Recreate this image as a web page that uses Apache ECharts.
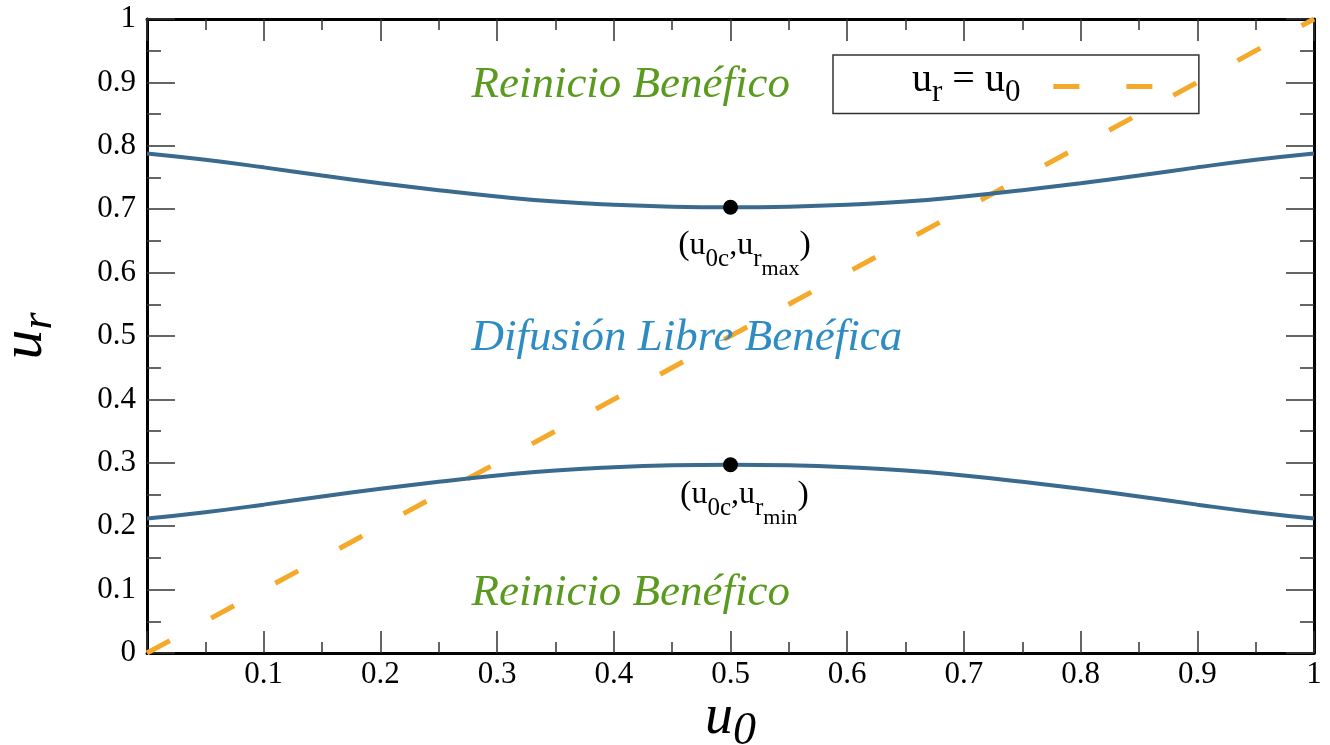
<!DOCTYPE html>
<html>
<head>
<meta charset="utf-8">
<script src="https://cdn.jsdelivr.net/npm/echarts@6/dist/echarts.min.js"></script>
<style>
  html, body { margin: 0; padding: 0; background: #fff; }
  #chart { width: 1330px; height: 745px; }
</style>
</head>
<body>
<div id="chart"></div>
<script>
// ---- data ----
const u0Values = [0, 0.05, 0.1, 0.15, 0.2, 0.25, 0.3, 0.35, 0.4, 0.45, 0.5, 0.55, 0.6, 0.65, 0.7, 0.75, 0.8, 0.85, 0.9, 0.95, 1];
const urUpper = [0.788, 0.778, 0.766, 0.753, 0.741, 0.730, 0.720, 0.712, 0.707, 0.704, 0.703, 0.704, 0.707, 0.712, 0.720, 0.730, 0.741, 0.753, 0.766, 0.778, 0.788];
const urLower = [0.212, 0.222, 0.234, 0.247, 0.259, 0.270, 0.280, 0.288, 0.293, 0.296, 0.297, 0.296, 0.293, 0.288, 0.280, 0.270, 0.259, 0.247, 0.234, 0.222, 0.212];
const identityU0 = [0, 1];
const identityUr = [0, 1];
const criticalU0 = [0.5, 0.5];
const criticalUr = [0.703, 0.297];
const criticalLabels = ['max', 'min'];
const regionNames = ['Reinicio Benéfico', 'Difusión Libre Benéfica', 'Reinicio Benéfico'];
const regionU0 = [0.278, 0.278, 0.278];
const regionUr = [0.895, 0.497, 0.095];
const xTickLabels = ['', '0.1', '0.2', '0.3', '0.4', '0.5', '0.6', '0.7', '0.8', '0.9', '1'];
const yTickLabels = ['0', '0.1', '0.2', '0.3', '0.4', '0.5', '0.6', '0.7', '0.8', '0.9', '1'];

// ---- styles ----
const SERIF = 'Liberation Serif';
const curveColor = '#3a6a8e';
const dashColor = '#f5a92a';
const regionColors = ['#5a9a1e', '#2f8cc2', '#5a9a1e'];
const pointLabelOffsets = [[14, 50], [14, 42]];

const zip = (a, b) => a.map((v, i) => [v, b[i]]);
const tickIdx = v => Math.round(v * 10);

const axisCommon = {
  type: 'value', min: 0, max: 1, interval: 0.1,
  splitLine: { show: false },
  axisLine: { show: true, onZero: false, lineStyle: { color: '#000', width: 3 } },
};

const subRich = {
  p: { fontFamily: SERIF, fontSize: 34, color: '#000', padding: [0, 0, 24, 0] },
  m: { fontFamily: SERIF, fontSize: 32, color: '#000', padding: [0, 0, 24, 0] },
  s: { fontFamily: SERIF, fontSize: 25, color: '#000', padding: [14, 0, 10, 0] },
  ss: { fontFamily: SERIF, fontSize: 22, color: '#000', padding: [24, 0, 0, 0] }
};

const option = {
  animation: false,
  backgroundColor: '#fff',
  grid: { left: 147, right: 16, top: 19, bottom: 92, containLabel: false, outerBoundsMode: 'none' },
  legend: {
    left: 833, top: 55,
    padding: [5, 38, 5, 79],
    borderColor: '#333', borderWidth: 1.5,
    align: 'right',
    selectedMode: false,
    itemWidth: 105, itemHeight: 14,
    data: [{ name: 'identity', itemStyle: { opacity: 0 } }],
    lineStyle: { width: 5, type: [26, 47] },
    formatter: () => '{a|u}{s|r}{a| = u}{s|0}',
    textStyle: {
      padding: [0, 28, 0, 0],
      rich: {
        a: { fontFamily: SERIF, fontSize: 40, color: '#000', padding: [0, 0, 13, 0] },
        s: { fontFamily: SERIF, fontSize: 31, color: '#000', padding: [13, 0, 0, 0] }
      }
    }
  },
  xAxis: [
    Object.assign({}, axisCommon, {
      position: 'bottom',
      axisTick: { show: true, inside: true, length: 22, lineStyle: { color: '#333', width: 1.5 } },
      minorTick: { show: true, splitNumber: 2, length: 11, lineStyle: { color: '#333', width: 1.5 } },
      axisLabel: {
        fontFamily: SERIF, fontSize: 31, color: '#000', margin: 6,
        formatter: v => xTickLabels[tickIdx(v)]
      },
      name: '{u|u}{s|0}',
      nameLocation: 'middle',
      nameGap: 37,
      nameMoveOverlap: false,
      nameTextStyle: {
        rich: {
          u: { fontFamily: SERIF, fontStyle: 'italic', fontSize: 56, color: '#000', padding: [0, 0, 14, 0] },
          s: { fontFamily: SERIF, fontStyle: 'italic', fontSize: 46, color: '#000', padding: [14, 0, 0, 0] }
        }
      }
    }),
    Object.assign({}, axisCommon, {
      position: 'top',
      axisTick: { show: true, inside: true, length: 22, lineStyle: { color: '#333', width: 1.5 } },
      minorTick: { show: true, splitNumber: 2, length: 11, lineStyle: { color: '#333', width: 1.5 } },
      axisLabel: { show: false }
    })
  ],
  yAxis: [
    Object.assign({}, axisCommon, {
      position: 'left',
      axisTick: { show: true, inside: true, length: 28, lineStyle: { color: '#333', width: 1.5 } },
      minorTick: { show: true, splitNumber: 2, length: 14, lineStyle: { color: '#333', width: 1.5 } },
      axisLabel: {
        fontFamily: SERIF, fontSize: 31, color: '#000', margin: 11,
        formatter: v => yTickLabels[tickIdx(v)]
      },
      name: '{u|u}{s|r}',
      nameLocation: 'middle',
      nameRotate: 90,
      nameGap: 78,
      nameTextStyle: {
        rich: {
          u: { fontFamily: SERIF, fontStyle: 'italic', fontSize: 60, color: '#000', padding: [0, 0, 14, 0] },
          s: { fontFamily: SERIF, fontStyle: 'italic', fontSize: 44, color: '#000', padding: [14, 0, 0, 0] }
        }
      }
    }),
    Object.assign({}, axisCommon, {
      position: 'right',
      axisTick: { show: true, inside: true, length: 28, lineStyle: { color: '#333', width: 1.5 } },
      minorTick: { show: true, splitNumber: 2, length: 14, lineStyle: { color: '#333', width: 1.5 } },
      axisLabel: { show: false }
    })
  ],
  series: [
    {
      name: 'identity', type: 'line', xAxisIndex: 0, yAxisIndex: 0,
      data: zip(identityU0, identityUr),
      symbol: 'none', z: 2,
      lineStyle: { color: dashColor, width: 5, type: [26, 47], cap: 'butt' },
      itemStyle: { color: dashColor }
    },
    {
      name: 'upper', type: 'line', xAxisIndex: 0, yAxisIndex: 0,
      data: zip(u0Values, urUpper), smooth: true, symbol: 'none', z: 3,
      lineStyle: { color: curveColor, width: 4 }
    },
    {
      name: 'lower', type: 'line', xAxisIndex: 0, yAxisIndex: 0,
      data: zip(u0Values, urLower), smooth: true, symbol: 'none', z: 3,
      lineStyle: { color: curveColor, width: 4 }
    },
    {
      name: 'critical', type: 'scatter', xAxisIndex: 0, yAxisIndex: 0,
      symbol: 'circle', symbolSize: 15, z: 4,
      itemStyle: { color: '#000', opacity: 1 },
      data: criticalU0.map((x, i) => ({
        value: [x, criticalUr[i]],
        label: {
          show: true, position: 'inside', offset: pointLabelOffsets[i],
          formatter: '{p|(}{m|u}{s|0c}{m|,u}{s|r}{ss|' + criticalLabels[i] + '}{p|)}',
          rich: subRich
        }
      }))
    },
    {
      name: 'regions', type: 'scatter', xAxisIndex: 0, yAxisIndex: 0,
      symbolSize: 0, z: 5, silent: true,
      itemStyle: { opacity: 1 },
      data: regionU0.map((x, i) => ({
        value: [x, regionUr[i]],
        name: regionNames[i],
        label: {
          show: true, position: 'right', distance: 0,
          formatter: '{b}', opacity: 1,
          fontFamily: SERIF, fontStyle: 'italic', fontSize: 45,
          color: regionColors[i]
        }
      }))
    }
  ]
};

const chart = echarts.init(document.getElementById('chart'), null, { renderer: 'canvas' });
chart.setOption(option);
</script>
</body>
</html>
